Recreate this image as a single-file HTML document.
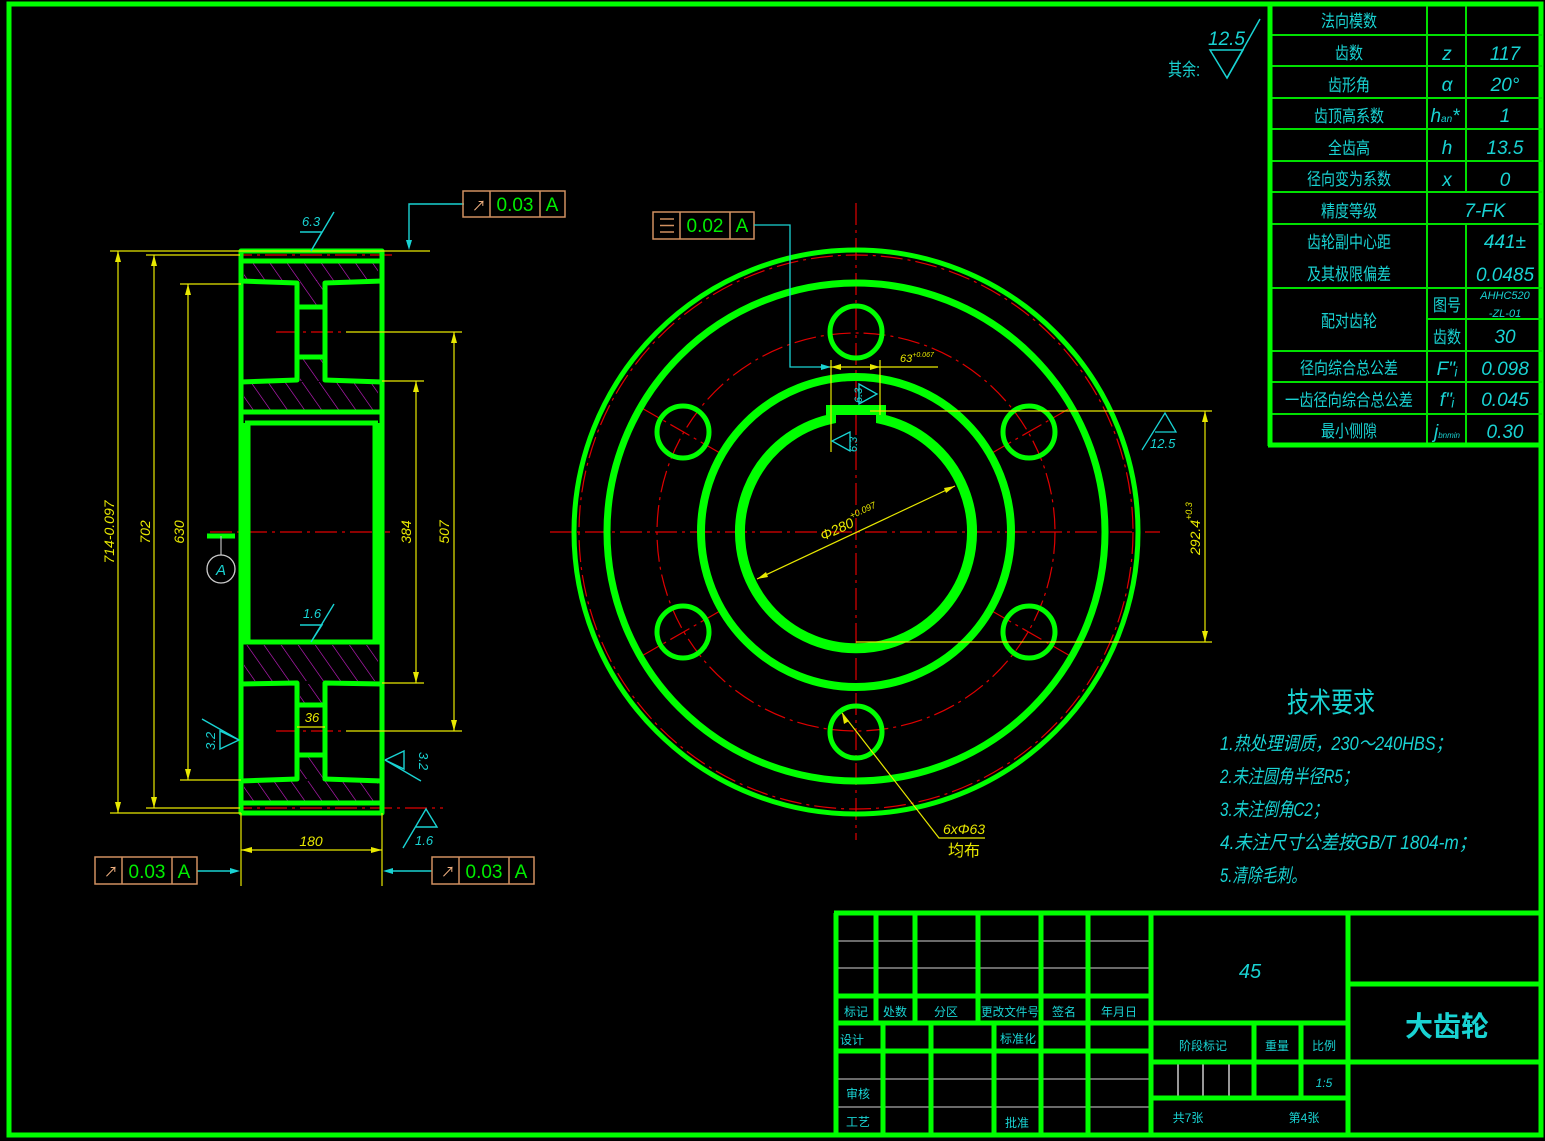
<!DOCTYPE html>
<html><head><meta charset="utf-8"><style>
html,body{margin:0;padding:0;background:#000;}
svg{display:block;}
text{font-family:"Liberation Sans","Noto Sans CJK SC",sans-serif;}
.c{fill:#19d3d3;}
.y{fill:#e8e800;}
.g{fill:#00ee00;}
</style></head><body>
<svg width="1545" height="1141" viewBox="0 0 1545 1141" xmlns="http://www.w3.org/2000/svg">
<rect x="0" y="0" width="1545" height="1141" fill="#000"/>
<rect x="9" y="4" width="1532" height="1131" fill="none" stroke="#00ff00" stroke-width="5"/>

<g stroke="#00e000" stroke-width="2" fill="none">
<line x1="1271" y1="35" x2="1542" y2="35"/><line x1="1271" y1="66" x2="1542" y2="66"/>
<line x1="1271" y1="98" x2="1542" y2="98"/><line x1="1271" y1="129" x2="1542" y2="129"/>
<line x1="1271" y1="161" x2="1542" y2="161"/><line x1="1271" y1="192" x2="1542" y2="192"/>
<line x1="1271" y1="224" x2="1542" y2="224"/><line x1="1271" y1="288" x2="1542" y2="288"/>
<line x1="1427" y1="319" x2="1542" y2="319"/><line x1="1271" y1="351" x2="1542" y2="351"/>
<line x1="1271" y1="382" x2="1542" y2="382"/><line x1="1271" y1="414" x2="1542" y2="414"/>
<line x1="1427" y1="6" x2="1427" y2="445"/>
<line x1="1466" y1="6" x2="1466" y2="192"/><line x1="1466" y1="224" x2="1466" y2="445"/>
</g>
<g stroke="#00ff00" stroke-width="5" fill="none">
<line x1="1270" y1="4" x2="1270" y2="446"/><line x1="1268" y1="445" x2="1542" y2="445"/>
</g>
<g class="c" font-size="17" text-anchor="middle">
<text x="1349" y="27" textLength="56" lengthAdjust="spacingAndGlyphs">法向模数</text>
<text x="1349" y="59" textLength="28" lengthAdjust="spacingAndGlyphs">齿数</text>
<text x="1349" y="91" textLength="42" lengthAdjust="spacingAndGlyphs">齿形角</text>
<text x="1349" y="122" textLength="70" lengthAdjust="spacingAndGlyphs">齿顶高系数</text>
<text x="1349" y="154" textLength="42" lengthAdjust="spacingAndGlyphs">全齿高</text>
<text x="1349" y="185" textLength="84" lengthAdjust="spacingAndGlyphs">径向变为系数</text>
<text x="1349" y="217" textLength="56" lengthAdjust="spacingAndGlyphs">精度等级</text>
<text x="1349" y="248" textLength="84" lengthAdjust="spacingAndGlyphs">齿轮副中心距</text>
<text x="1349" y="280" textLength="84" lengthAdjust="spacingAndGlyphs">及其极限偏差</text>
<text x="1349" y="327" textLength="56" lengthAdjust="spacingAndGlyphs">配对齿轮</text>
<text x="1349" y="374" textLength="98" lengthAdjust="spacingAndGlyphs">径向综合总公差</text>
<text x="1349" y="406" textLength="128" lengthAdjust="spacingAndGlyphs">一齿径向综合总公差</text>
<text x="1349" y="437" textLength="56" lengthAdjust="spacingAndGlyphs">最小侧隙</text>
<text x="1447" y="311" textLength="28" lengthAdjust="spacingAndGlyphs">图号</text>
<text x="1447" y="343" textLength="28" lengthAdjust="spacingAndGlyphs">齿数</text>
</g>
<g class="c" font-size="19" font-style="italic" text-anchor="middle">
<text x="1447" y="60">z</text><text x="1505" y="60">117</text>
<text x="1447" y="91">α</text><text x="1505" y="91">20°</text>
<text x="1445" y="122">h<tspan font-size="10">an</tspan>*</text><text x="1505" y="122">1</text>
<text x="1447" y="154">h</text><text x="1505" y="154">13.5</text>
<text x="1447" y="186">x</text><text x="1505" y="186">0</text>
<text x="1485" y="217">7-FK</text>
<text x="1505" y="248">441±</text>
<text x="1505" y="281">0.0485</text>
<text x="1505" y="299" font-size="11">AHHC520</text>
<text x="1505" y="317" font-size="11">-ZL-01</text>
<text x="1505" y="343">30</text>
<text x="1447" y="375">F"ᵢ</text><text x="1505" y="375">0.098</text>
<text x="1447" y="406">f"ᵢ</text><text x="1505" y="406">0.045</text>
<text x="1447" y="438">j<tspan font-size="8">bnmin</tspan></text><text x="1505" y="438">0.30</text>
</g>

<g stroke="#19d3d3" stroke-width="1.5" fill="none">
<polygon points="1210,50 1243,50 1227,78"/>
<line x1="1227" y1="78" x2="1260" y2="19"/>
</g>
<text class="c" x="1208" y="45" font-size="19" font-style="italic">12.5</text>
<text class="c" x="1168" y="76" font-size="18" textLength="32" lengthAdjust="spacingAndGlyphs">其余:</text>

<defs>
<pattern id="h" width="14" height="14" patternUnits="userSpaceOnUse" patternTransform="rotate(-35)">
<line x1="0" y1="0" x2="0" y2="14" stroke="#d020d0" stroke-width="1.2"/>
</pattern>
</defs>
<g fill="url(#h)">
<rect x="244" y="262" width="134" height="19"/>
<rect x="300" y="280" width="24" height="25"/>
<rect x="300" y="359" width="24" height="22"/>
<rect x="244" y="382" width="134" height="28"/>
<rect x="244" y="645" width="134" height="36"/>
<rect x="300" y="684" width="24" height="20"/>
<rect x="300" y="757" width="24" height="22"/>
<rect x="244" y="781" width="134" height="20"/>
</g>
<g stroke="#e00000" stroke-width="1.2" stroke-dasharray="22,5,3,5" fill="none">
<line x1="210" y1="532" x2="390" y2="532"/>
<line x1="276" y1="332" x2="346" y2="332"/>
<line x1="276" y1="731" x2="346" y2="731"/>
<line x1="230" y1="255" x2="395" y2="255"/>
<line x1="230" y1="808" x2="443" y2="808"/>
</g>
<g stroke="#00ff00" stroke-width="5" fill="none" stroke-linejoin="round">
<rect x="241" y="251" width="141" height="562"/>
<line x1="241" y1="261" x2="382" y2="261"/>
<line x1="241" y1="803" x2="382" y2="803"/>
<line x1="241" y1="412" x2="382" y2="412"/>
<line x1="241" y1="642" x2="382" y2="642"/>
<line x1="245" y1="423" x2="378" y2="423"/>
<line x1="246" y1="423" x2="246" y2="642" stroke-width="9"/>
<line x1="377" y1="423" x2="377" y2="642" stroke-width="9"/>
<polyline points="241,281 297,283 297,380 241,382"/>
<polyline points="382,281 325,283 325,380 382,382"/>
<line x1="297" y1="307" x2="325" y2="307"/>
<line x1="297" y1="357" x2="325" y2="357"/>
<polyline points="241,684 297,683 297,779 241,781"/>
<polyline points="382,684 325,683 325,779 382,781"/>
<line x1="297" y1="705" x2="325" y2="705"/>
<line x1="297" y1="755" x2="325" y2="755"/>
</g>
<g stroke="#e8e800" stroke-width="1.2" fill="none">
<line x1="110" y1="251" x2="430" y2="251"/>
<line x1="110" y1="813" x2="241" y2="813"/>
<line x1="146" y1="255" x2="240" y2="255"/>
<line x1="146" y1="808" x2="240" y2="808"/>
<line x1="180" y1="284" x2="241" y2="284"/>
<line x1="180" y1="780" x2="241" y2="780"/>
<line x1="382" y1="381" x2="424" y2="381"/>
<line x1="382" y1="683" x2="424" y2="683"/>
<line x1="346" y1="332" x2="462" y2="332"/>
<line x1="346" y1="731" x2="462" y2="731"/>
<line x1="118" y1="251" x2="118" y2="813"/>
<line x1="154" y1="255" x2="154" y2="808"/>
<line x1="188" y1="284" x2="188" y2="780"/>
<line x1="416" y1="381" x2="416" y2="683"/>
<line x1="454" y1="332" x2="454" y2="731"/>
<line x1="241" y1="813" x2="241" y2="886"/>
<line x1="382" y1="813" x2="382" y2="886"/>
<line x1="241" y1="850" x2="382" y2="850"/>
<line x1="297" y1="727" x2="325" y2="727"/>
</g>
<g fill="#e8e800">
<polygon points="118,251 115,262 121,262"/><polygon points="118,813 115,802 121,802"/>
<polygon points="154,255 151,266 157,266"/><polygon points="154,808 151,797 157,797"/>
<polygon points="188,284 185,295 191,295"/><polygon points="188,780 185,769 191,769"/>
<polygon points="416,381 413,392 419,392"/><polygon points="416,683 413,672 419,672"/>
<polygon points="454,332 451,343 457,343"/><polygon points="454,731 451,720 457,720"/>
<polygon points="241,850 252,847 252,853"/><polygon points="382,850 371,847 371,853"/>
</g>
<g class="y" font-size="14" font-style="italic" text-anchor="middle">
<text transform="translate(114,532) rotate(-90)">714-0.097</text>
<text transform="translate(150,532) rotate(-90)">702</text>
<text transform="translate(184,532) rotate(-90)">630</text>
<text transform="translate(411,532) rotate(-90)">384</text>
<text transform="translate(449,532) rotate(-90)">507</text>
<text x="311" y="846">180</text>
<text x="312" y="722" font-size="13">36</text>
</g>
<line x1="207" y1="536" x2="235" y2="536" stroke="#00ff00" stroke-width="5"/>
<line x1="221" y1="536" x2="221" y2="555" stroke="#bbb" stroke-width="1.2"/>
<circle cx="221" cy="569" r="14" fill="none" stroke="#ccc" stroke-width="1.3"/>
<text x="221" y="575" font-size="15" font-style="italic" class="c" text-anchor="middle">A</text>
<g stroke="#19d3d3" stroke-width="1.4" fill="none">
<polyline points="300,232 322,232 311,251 334,212"/>
<polyline points="300,625 322,625 311,642 334,604"/>
<polyline points="239,740 220,731 220,749 239,740 202,719"/>
<polyline points="385,760 404,751 404,769 385,760 421,781"/>
<polyline points="415,827 437,827 426,809 403,848"/>
<polyline points="464,204 409,204 409,246"/>
<line x1="197" y1="871" x2="235" y2="871"/>
<line x1="432" y1="871" x2="388" y2="871"/>
</g>
<g fill="#19d3d3">
<polygon points="409,250 406,240 412,240"/>
<polygon points="240,871 230,868 230,874"/>
<polygon points="383,871 393,868 393,874"/>
</g>
<g class="c" font-size="13" font-style="italic">
<text x="302" y="226">6.3</text>
<text x="303" y="618">1.6</text>
<text transform="translate(215,750) rotate(-90)">3.2</text>
<text transform="translate(419,752) rotate(90)">3.2</text>
<text x="415" y="845">1.6</text>
</g>
<g stroke="#d09060" stroke-width="1.5" fill="none">
<rect x="463" y="191" width="102" height="26"/><line x1="490" y1="191" x2="490" y2="217"/><line x1="540" y1="191" x2="540" y2="217"/>
<rect x="95" y="857" width="102" height="27"/><line x1="122" y1="857" x2="122" y2="884"/><line x1="172" y1="857" x2="172" y2="884"/>
<rect x="432" y="857" width="102" height="27"/><line x1="459" y1="857" x2="459" y2="884"/><line x1="509" y1="857" x2="509" y2="884"/>
<rect x="653" y="212" width="101" height="27"/><line x1="680" y1="212" x2="680" y2="239"/><line x1="730" y1="212" x2="730" y2="239"/>
<line x1="660" y1="219" x2="674" y2="219"/><line x1="660" y1="225.5" x2="674" y2="225.5"/><line x1="660" y1="232" x2="674" y2="232"/>
</g>
<g fill="#f0b080" font-size="14">
<text x="472" y="211">↗</text><text x="104" y="877">↗</text><text x="441" y="877">↗</text>
</g>
<g class="g" font-size="19" text-anchor="middle">
<text x="515" y="211">0.03</text><text x="552" y="211">A</text>
<text x="147" y="878">0.03</text><text x="184" y="878">A</text>
<text x="484" y="878">0.03</text><text x="521" y="878">A</text>
<text x="705" y="232">0.02</text><text x="742" y="232">A</text>
</g>

<g stroke="#e00000" stroke-width="1.2" fill="none" stroke-dasharray="22,5,3,5">
<line x1="550" y1="532" x2="1160" y2="532"/>
<line x1="856" y1="203" x2="856" y2="840"/>
<circle cx="856" cy="532" r="277"/>
<circle cx="856" cy="532" r="199"/>
<line x1="640" y1="407" x2="720" y2="453"/>
<line x1="992" y1="611" x2="1072" y2="657"/>
<line x1="640" y1="657" x2="720" y2="611"/>
<line x1="992" y1="453" x2="1072" y2="407"/>
</g>
<g stroke="#00ff00" fill="none">
<circle cx="856" cy="532" r="282" stroke-width="5"/>
<circle cx="856" cy="532" r="249" stroke-width="7"/>
<circle cx="856" cy="532" r="155" stroke-width="8"/>
<path d="M831 419 A116 116 0 1 0 881 419 L881 410 L831 410 Z" stroke-width="10"/>
<g stroke-width="5">
<circle cx="856" cy="332" r="26"/><circle cx="856" cy="732" r="26"/>
<circle cx="683" cy="432" r="26"/><circle cx="1029" cy="432" r="26"/>
<circle cx="683" cy="632" r="26"/><circle cx="1029" cy="632" r="26"/>
</g>
</g>
<g stroke="#e8e800" stroke-width="1.2" fill="none">
<line x1="757" y1="579" x2="955" y2="486"/>
<line x1="870" y1="411" x2="1212" y2="411"/>
<line x1="856" y1="642" x2="1212" y2="642"/>
<line x1="1205" y1="411" x2="1205" y2="642"/>
<line x1="831" y1="360" x2="831" y2="452"/>
<line x1="880" y1="360" x2="880" y2="415"/>
<line x1="820" y1="367" x2="938" y2="367"/>
<polyline points="842,713 939,838 985,838"/>
</g>
<g fill="#e8e800">
<polygon points="757,579 766,572 768,577"/><polygon points="955,486 946,493 944,488"/>
<polygon points="1205,411 1202,422 1208,422"/><polygon points="1205,642 1202,631 1208,631"/>
<polygon points="831,367 841,364 841,370"/><polygon points="880,367 870,364 870,370"/>
<polygon points="842,713 849,721 844,724"/>
</g>
<g class="y" font-style="italic">
<text transform="translate(823,541) rotate(-25)" font-size="14">Φ280<tspan font-size="9" dy="-8">+0.097</tspan></text>
<text transform="translate(1200,555) rotate(-90)" font-size="14">292.4<tspan font-size="9" dy="-8">+0.3</tspan></text>
<text x="900" y="362" font-size="11">63<tspan font-size="7" dy="-5">+0.067</tspan></text>
<text x="943" y="834" font-size="14">6xΦ63</text>
<text x="948" y="856" font-size="16" font-style="normal">均布</text>
</g>
<g stroke="#19d3d3" stroke-width="1.3" fill="none">
<polyline points="754,225 790,225 790,367 826,367"/>
<polyline points="1142,450 1165,413 1176,432 1155,432"/>
<polygon points="859,384 877,394 859,404"/>
<polygon points="850,432 832,441 850,451"/>
</g>
<polygon points="831,367 821,364 821,370" fill="#19d3d3"/>
<g class="c" font-size="13" font-style="italic">
<text x="1150" y="448">12.5</text>
<text transform="translate(862,403) rotate(-90)" font-size="11">6.3</text>
<text transform="translate(857,452) rotate(-90)" font-size="11">6.3</text>
</g>

<text class="c" x="1287" y="712" font-size="28" textLength="88" lengthAdjust="spacingAndGlyphs">技术要求</text>
<g class="c" font-size="19" font-style="italic">
<text x="1220" y="750" textLength="232" lengthAdjust="spacingAndGlyphs">1.热处理调质，230～240HBS；</text>
<text x="1220" y="783" textLength="138" lengthAdjust="spacingAndGlyphs">2.未注圆角半径R5；</text>
<text x="1220" y="816" textLength="108" lengthAdjust="spacingAndGlyphs">3.未注倒角C2；</text>
<text x="1220" y="849" textLength="256" lengthAdjust="spacingAndGlyphs">4.未注尺寸公差按GB/T 1804-m；</text>
<text x="1220" y="882" textLength="86" lengthAdjust="spacingAndGlyphs">5.清除毛刺。</text>
</g>

<g stroke="#aaa" stroke-width="1.2">
<line x1="836" y1="941" x2="1151" y2="941"/><line x1="836" y1="968" x2="1151" y2="968"/>
<line x1="836" y1="1079" x2="1151" y2="1079"/><line x1="836" y1="1107" x2="1151" y2="1107"/>
<line x1="1178" y1="1062" x2="1178" y2="1098" stroke="#fff"/><line x1="1203" y1="1062" x2="1203" y2="1098" stroke="#fff"/><line x1="1229" y1="1062" x2="1229" y2="1098" stroke="#fff"/>
</g>
<g stroke="#00ff00" stroke-width="5" fill="none">
<line x1="834" y1="913" x2="1542" y2="913"/>
<line x1="836" y1="913" x2="836" y2="1136"/>
<line x1="836" y1="996" x2="1151" y2="996"/><line x1="836" y1="1023" x2="1151" y2="1023"/><line x1="836" y1="1051" x2="1151" y2="1051"/>
<line x1="876" y1="913" x2="876" y2="1023"/><line x1="915" y1="913" x2="915" y2="1023"/>
<line x1="978" y1="913" x2="978" y2="1023"/><line x1="1041" y1="913" x2="1041" y2="1136"/>
<line x1="1088" y1="913" x2="1088" y2="1136"/>
<line x1="883" y1="1023" x2="883" y2="1136"/><line x1="931" y1="1023" x2="931" y2="1136"/>
<line x1="994" y1="1023" x2="994" y2="1136"/>
<line x1="1151" y1="913" x2="1151" y2="1136"/>
<line x1="1151" y1="1023" x2="1348" y2="1023"/><line x1="1151" y1="1062" x2="1541" y2="1062"/>
<line x1="1151" y1="1098" x2="1348" y2="1098"/>
<line x1="1254" y1="1023" x2="1254" y2="1098"/><line x1="1301" y1="1023" x2="1301" y2="1098"/>
<line x1="1348" y1="913" x2="1348" y2="1136"/>
<line x1="1348" y1="984" x2="1541" y2="984"/>
</g>
<g class="c" font-size="12" text-anchor="middle">
<text x="856" y="1016">标记</text><text x="895" y="1016">处数</text><text x="946" y="1016">分区</text>
<text x="1010" y="1016" textLength="58" lengthAdjust="spacingAndGlyphs">更改文件号</text><text x="1064" y="1016">签名</text><text x="1119" y="1016">年月日</text>
<text x="852" y="1044">设计</text><text x="1018" y="1043">标准化</text>
<text x="858" y="1098">审核</text><text x="858" y="1126">工艺</text><text x="1017" y="1127">批准</text>
<text x="1203" y="1050">阶段标记</text><text x="1277" y="1050">重量</text><text x="1324" y="1050">比例</text>
<text x="1324" y="1087" font-style="italic">1:5</text>
<text x="1188" y="1122">共7张</text><text x="1304" y="1122">第4张</text>
<text x="1250" y="978" font-size="20" font-style="italic">45</text>
<text x="1447" y="1036" font-size="28" font-weight="bold">大齿轮</text>
</g>
</svg>
</body></html>
